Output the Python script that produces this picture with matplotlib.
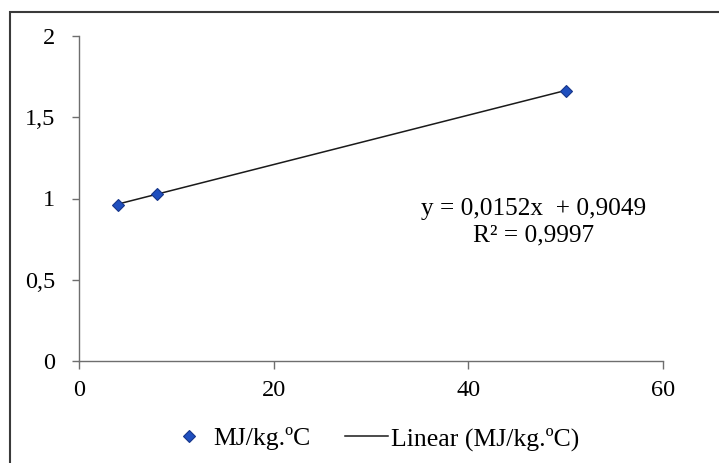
import matplotlib
matplotlib.use("Agg")
import matplotlib.pyplot as plt
from matplotlib.patches import Rectangle
import numpy as np

plt.rcParams['font.family'] = ['Liberation Serif', 'DejaVu Serif']

# Measured heat values
x_vals = [4, 8, 50]
y_vals = [0.96, 1.03, 1.66]
series_name = "MJ/kg.\u00baC"

# Linear trendline coefficients
slope = 0.0152
intercept = 0.9049
r_squared = 0.9997

x_ticks = [0, 20, 40, 60]
y_ticks = [0, 0.5, 1, 1.5, 2]
y_tick_labels = ["0", "0,5", "1", "1,5", "2"]
x_tick_labels = ["0", "20", "40", "60"]

fig = plt.figure(figsize=(7.19, 4.63), dpi=100)
ax = fig.add_axes([79 / 719, 1 - 361 / 463, 584 / 719, 325 / 463])

axis_color = "#6e6e6e"

x_line = np.array([min(x_vals), max(x_vals)])
ax.plot(x_line, slope * x_line + intercept, color="#1a1a1a", lw=1.1,
        label=f"Linear ({series_name})", zorder=2)
ax.plot(x_vals, y_vals, linestyle="none", marker="D", markersize=6.5,
        markerfacecolor="#1f4fbf", markeredgecolor="#17368a", markeredgewidth=0.8,
        label=series_name, zorder=3)

ax.set_xlim(0, 60)
ax.set_ylim(0, 2)
ax.set_xticks(x_ticks)
ax.set_xticklabels(x_tick_labels)
ax.set_yticks(y_ticks)
ax.set_yticklabels(y_tick_labels)

for side in ("top", "right"):
    ax.spines[side].set_visible(False)
for side in ("left", "bottom"):
    ax.spines[side].set_color(axis_color)
    ax.spines[side].set_linewidth(1.0)

ax.tick_params(axis="x", direction="out", length=6, width=1.0, color=axis_color,
               labelsize=17.5, pad=8)
ax.tick_params(axis="y", direction="out", length=5, width=1.0, color=axis_color,
               labelsize=17.5, pad=12)

def fmt(v, nd):
    return f"{v:.{nd}f}".replace(".", ",")

eq_text = f"y = {fmt(slope, 4)}x  + {fmt(intercept, 4)}\nR\u00b2 = {fmt(r_squared, 4)}"
ax.text(0.779, 0.428, eq_text, transform=ax.transAxes, ha="center", va="center",
        fontsize=18.2, linespacing=1.25, multialignment="center")

handles, labels = ax.get_legend_handles_labels()
order = [1, 0]
fig.legend([handles[i] for i in order], [labels[i] for i in order],
           loc="center", bbox_to_anchor=(373.5 / 719, 1 - 439 / 463), ncol=2,
           frameon=False, fontsize=18.5, handlelength=1.65, handletextpad=0.12,
           columnspacing=1.35)

# Chart area border
fig.patches.append(Rectangle((10 / 719, -0.05), 1.2, 1 - 12 / 463 + 0.05,
                             transform=fig.transFigure, fill=False,
                             edgecolor="#3a3a3a", linewidth=1.5))

fig.savefig("out.png", dpi=100)
